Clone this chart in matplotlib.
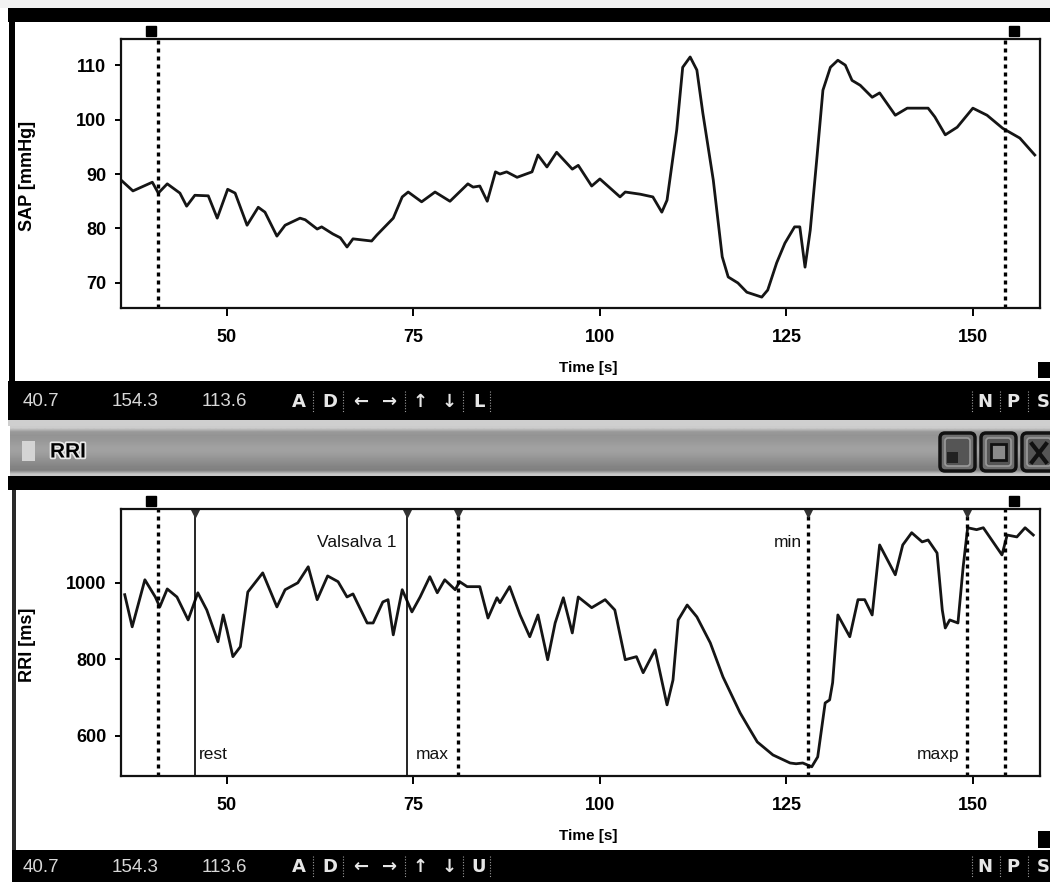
import matplotlib
matplotlib.use("Agg")
import matplotlib.pyplot as plt
import numpy as np
from matplotlib.patches import Rectangle, FancyBboxPatch
from matplotlib.transforms import offset_copy
from matplotlib import font_manager
import matplotlib.patheffects as pe

# ---------------- data ----------------
sap_time = [35.8, 37.4, 40.0, 40.8, 42.0, 43.7, 44.6, 45.7, 47.5, 48.7,
            50.1, 51.1, 52.7, 54.2, 55.1, 56.7, 57.8, 59.8, 60.5, 62.1,
            62.7, 64.2, 65.2, 66.1, 66.9, 69.4, 70.1, 72.3, 73.5, 74.3,
            76.1, 77.9, 79.9, 82.3, 83.0, 83.9, 84.9, 86.0, 86.6, 87.5,
            88.9, 90.9, 91.7, 92.9, 94.2, 96.3, 97.1, 98.9, 100.0, 102.7,
            103.4, 105.4, 107.1, 108.3, 109.0, 110.3, 111.1, 112.1, 113.0, 113.8,
            115.2, 116.4, 117.2, 118.5, 119.7, 121.7, 122.5, 123.7, 124.8, 126.1,
            126.8, 127.5, 128.2, 129.1, 129.9, 130.9, 131.9, 132.9, 133.8, 134.9,
            136.5, 137.5, 139.6, 141.2, 144.0, 144.9, 146.3, 147.9, 150.0, 151.9,
            154.0, 156.3, 158.3]
sap_mmHg = [88.9, 86.9, 88.5, 86.5, 88.2, 86.5, 84.1, 86.1, 86.0, 81.9,
            87.2, 86.5, 80.6, 83.9, 83.0, 78.6, 80.6, 81.9, 81.6, 79.9,
            80.3, 79.0, 78.3, 76.6, 78.1, 77.7, 78.8, 81.9, 85.8, 86.7,
            84.9, 86.7, 85.0, 88.2, 87.6, 87.8, 85.0, 90.4, 90.0, 90.4,
            89.4, 90.4, 93.5, 91.3, 94.0, 90.9, 91.6, 87.8, 89.1, 85.8,
            86.7, 86.3, 85.8, 83.0, 85.2, 98.1, 109.6, 111.5, 109.1, 101.2,
            88.9, 74.8, 71.1, 70.0, 68.3, 67.4, 68.7, 73.7, 77.3, 80.3,
            80.3, 72.9, 79.7, 93.1, 105.4, 109.6, 110.9, 110.0, 107.2, 106.3,
            104.1, 104.9, 100.8, 102.1, 102.1, 100.5, 97.2, 98.6, 102.1, 100.8,
            98.4, 96.6, 93.5]

rri_time = [36.3, 37.3, 39.0, 40.4, 41.0, 42.0, 43.3, 44.8, 46.1, 47.3,
            48.8, 49.5, 50.0, 50.8, 51.8, 52.8, 54.8, 56.7, 57.8, 59.5,
            60.9, 62.1, 63.5, 64.9, 66.1, 66.9, 68.8, 69.6, 70.9, 71.6,
            72.3, 73.5, 74.8, 75.9, 77.2, 78.2, 79.2, 80.6, 81.2, 82.2,
            83.9, 85.0, 86.2, 86.6, 87.9, 89.3, 90.6, 91.7, 93.0, 94.0,
            95.1, 96.3, 97.1, 98.9, 100.7, 102.0, 103.4, 104.9, 105.8, 107.4,
            109.0, 109.8, 110.5, 111.7, 113.0, 114.8, 116.5, 118.8, 120.0, 121.1,
            123.2, 125.5, 126.3, 127.2, 128.4, 129.2, 130.2, 130.8, 131.2, 131.9,
            133.5, 134.6, 135.5, 136.5, 137.5, 139.6, 140.6, 141.8, 143.2, 144.0,
            145.2, 145.9, 146.3, 146.9, 148.0, 148.7, 149.3, 150.5, 151.4, 153.9,
            154.6, 155.9, 157.0, 158.1]
rri_ms = [969, 885, 1008, 963, 937, 984, 963, 903, 974, 929,
          846, 916, 877, 807, 833, 976, 1026, 937, 982, 1000,
          1042, 956, 1018, 1003, 963, 971, 895, 895, 950, 956,
          864, 982, 924, 963, 1016, 974, 1008, 982, 1003, 990,
          990, 908, 961, 948, 990, 916, 859, 916, 799, 895,
          961, 869, 963, 935, 956, 929, 799, 807, 765, 825,
          681, 746, 903, 942, 911, 843, 754, 660, 620, 584,
          550, 529, 527, 529, 519, 545, 686, 694, 739, 916,
          859, 956, 956, 916, 1099, 1021, 1099, 1131, 1107, 1112,
          1078, 929, 882, 903, 895, 1042, 1144, 1139, 1144, 1073,
          1125, 1120, 1144, 1125]

cursor_times = [40.7, 154.3]
cursor_text = ["40.7", "154.3", "113.6"]
event_times = [45.7, 74.1, 81.0, 127.9, 149.2]
event_solid = [True, True, False, False, False]
event_labels = ["rest", "Valsalva 1", "max", "min", "maxp"]
event_label_times = [45.7, 74.1, 74.1, 127.9, 149.2]

x_ticks = [50, 75, 100, 125, 150]
sap_ticks = [70, 80, 90, 100, 110]
rri_ticks = [600, 800, 1000]

# ---------------- figure ----------------
W, H = 1050, 882
fig = plt.figure(figsize=(W / 100, H / 100), dpi=100, facecolor="white")
bg = fig.add_axes([0, 0, 1, 1])
bg.set_xlim(0, W)
bg.set_ylim(H, 0)
bg.axis("off")


def rect(x0, y0, x1, y1, color, **kw):
    bg.add_patch(Rectangle((x0, y0), x1 - x0, y1 - y0, facecolor=color,
                           edgecolor="none", **kw))


# window chrome
rect(0, 0, W, 8, "#f2f2f2")
rect(8, 8, W, 22, "black")
rect(9, 8, 15, 420, "black")
rect(8, 381, W, 420, "black")
rect(8, 420, W, 426, "#cfcfcf")
grad = np.array([0.80, 0.60, 0.58, 0.59, 0.61, 0.63, 0.63, 0.61, 0.58,
                 0.55, 0.52, 0.50, 0.78])[:, None] * np.ones((1, 2))
bg.imshow(grad, extent=(10, W, 476, 426), aspect="auto", cmap="gray",
          vmin=0, vmax=1, interpolation="bilinear")
rect(8, 476, W, 490, "black")
rect(12, 490, 16, H, "#2a2a2a")
rect(12, 850, W, H, "black")
bg.set_xlim(0, W)
bg.set_ylim(H, 0)

# title bar contents
rect(22, 441, 35, 461, "#d4d4d4")
bg.text(50, 452, "RRI", fontsize=15, fontweight="bold", color="black",
        family="Liberation Sans", ha="left", va="center",
        path_effects=[pe.withStroke(linewidth=2.5, foreground="#e8e8e8")])
for x0, x1 in [(940, 975), (981, 1016), (1022, 1056)]:
    bg.add_patch(FancyBboxPatch((x0, 433), x1 - x0, 38,
                                boxstyle="round,pad=0,rounding_size=5",
                                facecolor="#6e6e6e", edgecolor="#111111", lw=2.5))
    bg.add_patch(FancyBboxPatch((x0 + 5, 438), x1 - x0 - 10, 28,
                                boxstyle="round,pad=0,rounding_size=3",
                                facecolor="#555555", edgecolor="#9a9a9a", lw=1.2))
rect(947, 452, 958, 463, "#222222")
bg.add_patch(Rectangle((991, 444), 15, 16, facecolor="#8a8a8a", edgecolor="#111111", lw=2))
bg.plot([1032, 1046], [444, 462], color="#111111", lw=3)
bg.plot([1032, 1046], [462, 444], color="#111111", lw=3)

# corner handles
rect(1038, 362, W, 378, "black")
rect(1038, 831, W, 848, "black")

# status bars
installed = {f.name for f in font_manager.fontManager.ttflist}
if "Liberation Sans Narrow" in installed:
    stat_font, stat_size = ["Liberation Sans Narrow", "DejaVu Sans"], 15
else:
    stat_font, stat_size = ["Liberation Sans", "DejaVu Sans"], 13.5
for yc, last in [(402, "L"), (867, "U")]:
    for x, s in zip([23, 112, 202], cursor_text):
        bg.text(x, yc, s, color="#d8d8d8", fontsize=stat_size, family=stat_font,
                ha="left", va="center")
    for x, s in [(299, "A"), (330, "D"), (361, "←"), (390, "→"),
                 (420, "↑"), (449, "↓"), (479, last)]:
        bg.text(x, yc, s, color="#e6e6e6", fontsize=13, family=["DejaVu Sans"],
                fontweight="bold", ha="center", va="center")
    for x in [313, 343, 405, 463, 490, 972, 1000, 1028]:
        bg.plot([x, x], [yc - 11, yc + 11], color="#9a9a9a", lw=0.8,
                ls=(0, (1, 1.5)))
    for x, s in [(985, "N"), (1013, "P"), (1043, "S")]:
        bg.text(x, yc, s, color="#e6e6e6", fontsize=13, family=["DejaVu Sans"],
                fontweight="bold", ha="center", va="center")

# ---------------- plot axes ----------------
ax1 = fig.add_axes([121 / W, 1 - 308 / H, 919 / W, 269 / H], facecolor="white")
ax2 = fig.add_axes([121 / W, 1 - 776 / H, 919 / W, 267 / H], facecolor="white")

ax1.plot(sap_time, sap_mmHg, color="#151515", lw=2.0, solid_joinstyle="round")
ax2.plot(rri_time, rri_ms, color="#151515", lw=2.0, solid_joinstyle="round")

ax1.set_xlim(35.8, 159.0)
ax1.set_ylim(65.4, 114.8)
ax2.set_xlim(35.8, 159.0)
ax2.set_ylim(495, 1193)
ax1.set_yticks(sap_ticks)
ax2.set_yticks(rri_ticks)

dotted = (0, (1.2, 1.2))
for ax, ylab, yc in [(ax1, "SAP [mmHg]", 176), (ax2, "RRI [ms]", 645)]:
    ax.set_xticks(x_ticks)
    for sp in ax.spines.values():
        sp.set_linewidth(1.6)
        sp.set_color("#111111")
    ax.tick_params(axis="x", direction="out", length=6, width=1.4, pad=9,
                   labelsize=13)
    ax.tick_params(axis="y", direction="out", length=4.5, width=1.4, pad=6,
                   labelsize=13)
    for lab in ax.get_xticklabels() + ax.get_yticklabels():
        lab.set_fontfamily("Liberation Sans")
        lab.set_fontweight("bold")
    ax.set_xlabel("Time [s]", fontsize=11, fontweight="bold",
                  family="Liberation Sans", va="center")
    ax.set_ylabel(ylab, fontsize=13, fontweight="bold",
                  family="Liberation Sans", va="center")
    bb = ax.get_position()
    top_px = (1 - bb.y1) * H
    bot_px = (1 - bb.y0) * H
    ax.yaxis.set_label_coords((28 - 121) / 919, (bot_px - yc) / (bot_px - top_px))
    ax.xaxis.set_label_coords((588 - 121) / 919, -60 / (bot_px - top_px))
    # cursor lines and handles
    for i, t in enumerate(cursor_times):
        ax.axvline(t, color="black", lw=2.4, ls=dotted)
        tr = offset_copy(ax.get_xaxis_transform(), fig=fig,
                         x=(-7 if i == 0 else 9), y=8, units="dots")
        ax.plot([t], [1.0], marker="s", ms=7.5, color="black", transform=tr,
                clip_on=False)

# event markers (bottom panel)
for t, solid in zip(event_times, event_solid):
    if solid:
        ax2.axvline(t, color="black", lw=1.2)
    else:
        ax2.axvline(t, color="black", lw=2.4, ls=dotted)
    ax2.plot([t], [0.985], marker="v", ms=6, color="#333333",
             transform=ax2.get_xaxis_transform(), clip_on=False)

label_style = [  # (y axes-fraction, ha, dx pixels)
    (0.079, "left", 4),
    (0.876, "right", -10),
    (0.079, "left", 9),
    (0.873, "right", -6),
    (0.079, "right", -7),
]
for t, s, (yf, ha, dx) in zip(event_label_times, event_labels, label_style):
    ax2.annotate(s, xy=(t, yf), xycoords=ax2.get_xaxis_transform(),
                 xytext=(dx * 0.72, 0), textcoords="offset points",
                 ha=ha, va="center", fontsize=12.5, family="Liberation Sans",
                 color="#111111")

fig.savefig("out.png", dpi=100, facecolor="white")
